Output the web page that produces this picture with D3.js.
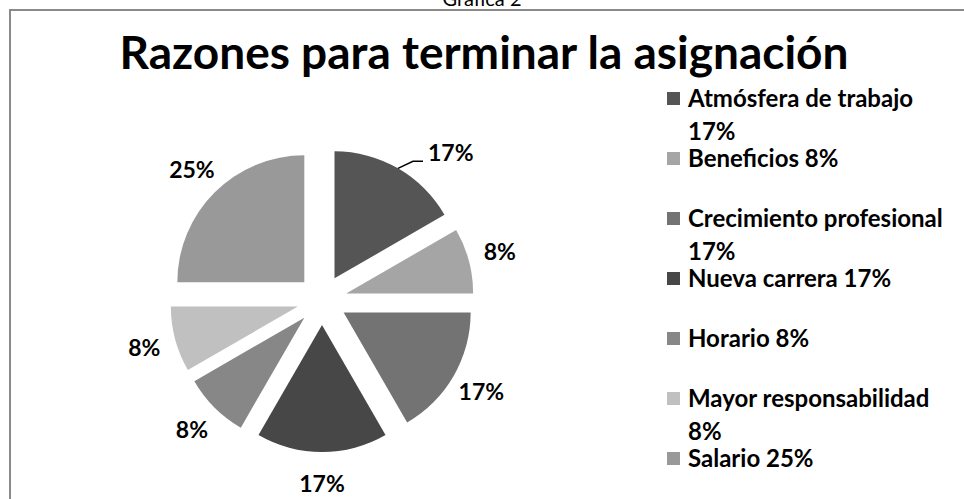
<!DOCTYPE html>
<html>
<head>
<meta charset="utf-8">
<script src="https://cdn.jsdelivr.net/npm/d3@7"></script>
<style>
body{margin:0;background:#fff;}
text{font-family:Lato, "Open Sans", sans-serif;}
</style>
</head>
<body>
<div id="chart"></div>
<script>
var categories = ["Atmósfera de trabajo","Beneficios","Crecimiento profesional","Nueva carrera","Horario","Mayor responsabilidad","Salario"];
var counts = [2,1,2,2,1,1,3];
var colors = ["#555555","#a5a5a5","#737373","#474747","#878787","#c0c0c0","#999999"];
var title = "Razones para terminar la asignación";
var caption = "Gráfica 2";

var w = 964, h = 499;
var cx = 322, cy = 300;
var radius = 127, explode = 25;

var svg = d3.select("#chart").append("svg")
	.attr("width", w).attr("height", h);

svg.append("rect")
	.attr("x",10).attr("y",10)
	.attr("width",1000).attr("height",600)
	.attr("fill","none")
	.attr("stroke","#8a8a8a")
	.attr("stroke-width",2);

svg.append("text")
	.attr("x",482).attr("y",6)
	.attr("text-anchor","middle")
	.style("font-size","20px")
	.text(caption);

svg.append("text")
	.attr("x",484).attr("y",69)
	.attr("text-anchor","middle")
	.style("font-size","46px").style("font-weight","bold")
	.text(title);

var total = d3.sum(counts);
var pct = d3.format(".0%");
var data = categories.map(function(c,i){ return {name:c, value:counts[i], color:colors[i]}; });

var pie = d3.pie().sort(null).value(function(d){ return d.value; });
var arcs = pie(data);
var arc = d3.arc().innerRadius(0).outerRadius(radius);

function dir(a){
	var m = (a.startAngle + a.endAngle)/2;
	return [Math.sin(m), -Math.cos(m)];
}

var g = svg.append("g").attr("transform","translate("+cx+","+cy+")");

g.selectAll(".slice").data(arcs).enter().append("path")
	.attr("class","slice")
	.attr("d", arc)
	.attr("fill", function(d){ return d.data.color; })
	.attr("transform", function(d){
		var v = dir(d);
		return "translate("+(v[0]*explode)+","+(v[1]*explode)+")";
	});

// leader line for first slice
var v0 = dir(arcs[0]);
var p1 = [v0[0]*(radius+explode), v0[1]*(radius+explode)];
var p2 = [p1[0]+15, p1[1]-7];
var p3 = [p2[0]+10, p2[1]];
g.append("path")
	.attr("d", d3.line()([p1, p2, p3]))
	.attr("fill","none").attr("stroke","#000").attr("stroke-width",1.5);

// data labels
var labelR = 184;
g.selectAll(".lbl").data(arcs).enter().append("text")
	.attr("class","lbl")
	.attr("x", function(d,i){
		if(i==0) return p3[0]+5;
		return dir(d)[0]*labelR;
	})
	.attr("y", function(d,i){
		if(i==0) return p3[1];
		return dir(d)[1]*labelR+8;
	})
	.attr("text-anchor", function(d,i){ return i==0 ? "start" : "middle"; })
	.style("font-size","23px").style("font-weight","bold")
	.text(function(d){ return pct(d.data.value/total); });

// legend
var lx = 667, ly = 107, step = 60, maxW = 265, lineH = 33;
var leg = svg.append("g");
data.forEach(function(d,i){
	var y = ly + i*step;
	leg.append("rect")
		.attr("x",lx).attr("y",y-15)
		.attr("width",13).attr("height",13)
		.attr("fill",d.color);
	var t = leg.append("text")
		.style("font-size","24px").style("font-weight","bold");
	var words = (d.name+" "+pct(d.value/total)).split(" ");
	var line = [], ts = t.append("tspan").attr("x",lx+21).attr("y",y), n = 0;
	words.forEach(function(word){
		line.push(word);
		ts.text(line.join(" "));
		if(ts.node().getComputedTextLength() > maxW && line.length > 1){
			line.pop();
			ts.text(line.join(" "));
			line = [word];
			n++;
			ts = t.append("tspan").attr("x",lx+21).attr("y",y+n*lineH).text(word);
		}
	});
});
</script>
</body>
</html>
